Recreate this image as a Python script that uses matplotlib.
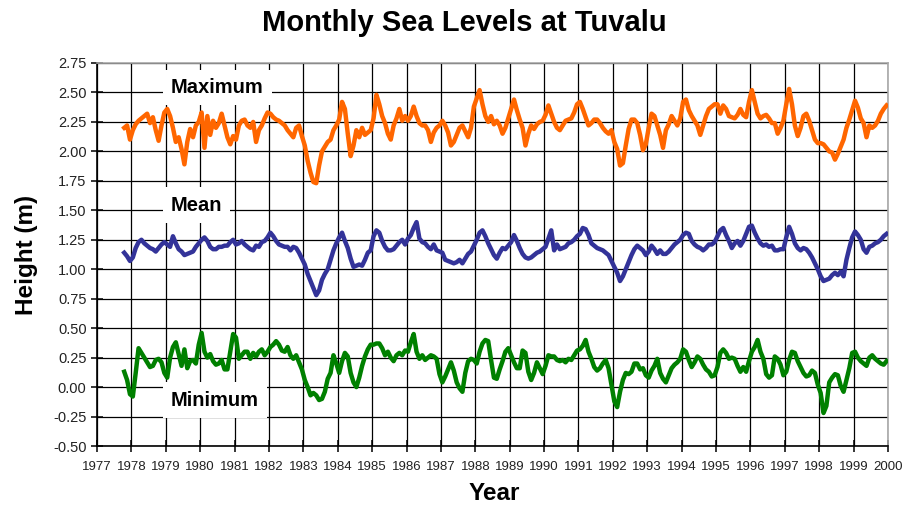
import numpy as np
import matplotlib
matplotlib.use('Agg')
import matplotlib.pyplot as plt

# monthly values, Oct 1977 .. Dec 1999 (metres)
start_year, start_month = 1977, 10

maximum = [
    2.20, 2.22, 2.10,
    2.18, 2.23, 2.26, 2.28, 2.30, 2.32, 2.24, 2.29, 2.18, 2.09, 2.22, 2.33,
    2.36, 2.30, 2.20, 2.08, 2.12, 2.02, 1.89, 2.08, 2.19, 2.12, 2.22, 2.25,
    2.33, 2.03, 2.30, 2.14, 2.26, 2.20, 2.24, 2.32, 2.22, 2.12, 2.06, 2.13,
    2.10, 2.22, 2.26, 2.27, 2.22, 2.20, 2.25, 2.08, 2.18, 2.22, 2.28, 2.33,
    2.32, 2.29, 2.27, 2.26, 2.24, 2.22, 2.18, 2.15, 2.12, 2.20, 2.22, 2.13,
    2.05, 1.92, 1.82, 1.74, 1.73, 1.88, 2.00, 2.04, 2.08, 2.10, 2.18, 2.22,
    2.27, 2.42, 2.36, 2.15, 1.96, 2.05, 2.18, 2.12, 2.20, 2.14, 2.16, 2.18,
    2.28, 2.48, 2.40, 2.30, 2.24, 2.15, 2.10, 2.22, 2.28, 2.36, 2.26, 2.30,
    2.26, 2.30, 2.38, 2.30, 2.24, 2.22, 2.22, 2.18, 2.08, 2.16, 2.20, 2.22,
    2.26, 2.22, 2.16, 2.05, 2.08, 2.14, 2.20, 2.22, 2.17, 2.12, 2.20, 2.38,
    2.45, 2.52, 2.40, 2.30, 2.25, 2.30, 2.23, 2.26, 2.22, 2.15, 2.20, 2.28,
    2.36, 2.44, 2.35, 2.27, 2.20, 2.05, 2.15, 2.22, 2.19, 2.23, 2.25, 2.26,
    2.31, 2.39, 2.32, 2.25, 2.20, 2.18, 2.22, 2.26, 2.27, 2.28, 2.33, 2.40,
    2.42, 2.36, 2.29, 2.22, 2.24, 2.27, 2.27, 2.24, 2.20, 2.17, 2.15, 2.18,
    2.08, 2.02, 1.88, 1.90, 2.05, 2.19, 2.27, 2.27, 2.24, 2.14, 2.01, 2.06,
    2.20, 2.32, 2.30, 2.22, 2.14, 2.03, 2.18, 2.23, 2.30, 2.26, 2.22, 2.28,
    2.42, 2.44, 2.35, 2.30, 2.26, 2.22, 2.14, 2.22, 2.30, 2.36, 2.38, 2.40,
    2.40, 2.32, 2.39, 2.36, 2.30, 2.29, 2.28, 2.31, 2.36, 2.31, 2.29, 2.42,
    2.52, 2.42, 2.32, 2.28, 2.30, 2.31, 2.28, 2.24, 2.24, 2.15, 2.20, 2.26,
    2.40, 2.53, 2.40, 2.22, 2.13, 2.20, 2.30, 2.32, 2.26, 2.18, 2.10, 2.07,
    2.07, 2.06, 2.03, 2.00, 1.99, 1.93, 1.98, 2.04, 2.10, 2.20, 2.27, 2.35,
    2.43, 2.37, 2.28, 2.24, 2.12, 2.22, 2.20, 2.22, 2.26, 2.32, 2.36, 2.39,
]

mean = [
    1.14, 1.11, 1.07,
    1.10, 1.18, 1.23, 1.25, 1.22, 1.20, 1.18, 1.17, 1.15, 1.18, 1.21, 1.23,
    1.21, 1.19, 1.28, 1.22, 1.17, 1.15, 1.12, 1.13, 1.14, 1.15, 1.19, 1.22,
    1.25, 1.27, 1.24, 1.19, 1.17, 1.17, 1.19, 1.19, 1.20, 1.20, 1.23, 1.25,
    1.21, 1.22, 1.24, 1.21, 1.19, 1.17, 1.16, 1.20, 1.19, 1.23, 1.24, 1.27,
    1.31, 1.28, 1.24, 1.21, 1.20, 1.19, 1.19, 1.16, 1.19, 1.18, 1.14, 1.09,
    1.04, 0.96, 0.90, 0.84, 0.78, 0.82, 0.91, 0.96, 1.00, 1.08, 1.16, 1.22,
    1.27, 1.31, 1.24, 1.18, 1.09, 1.02, 1.03, 1.04, 1.03, 1.08, 1.14, 1.16,
    1.28, 1.33, 1.31, 1.24, 1.19, 1.16, 1.16, 1.17, 1.20, 1.23, 1.25, 1.21,
    1.26, 1.29, 1.35, 1.40, 1.26, 1.23, 1.22, 1.19, 1.17, 1.21, 1.16, 1.15,
    1.14, 1.08, 1.07, 1.06, 1.05, 1.06, 1.08, 1.05, 1.09, 1.13, 1.15, 1.20,
    1.25, 1.31, 1.33, 1.28, 1.22, 1.17, 1.12, 1.09, 1.14, 1.18, 1.17, 1.20,
    1.23, 1.29, 1.24, 1.18, 1.13, 1.10, 1.09, 1.10, 1.12, 1.14, 1.15, 1.17,
    1.19, 1.26, 1.33, 1.16, 1.21, 1.17, 1.18, 1.19, 1.22, 1.23, 1.25, 1.28,
    1.30, 1.35, 1.34, 1.29, 1.22, 1.20, 1.18, 1.17, 1.16, 1.14, 1.12, 1.07,
    1.02, 0.97, 0.90, 0.94, 1.00, 1.06, 1.12, 1.17, 1.20, 1.18, 1.16, 1.12,
    1.15, 1.20, 1.17, 1.13, 1.16, 1.13, 1.13, 1.15, 1.18, 1.21, 1.23, 1.25,
    1.29, 1.31, 1.30, 1.24, 1.21, 1.19, 1.18, 1.16, 1.18, 1.21, 1.21, 1.23,
    1.28, 1.33, 1.35, 1.29, 1.24, 1.18, 1.22, 1.24, 1.20, 1.24, 1.30, 1.36,
    1.37, 1.31, 1.26, 1.22, 1.20, 1.21, 1.19, 1.20, 1.16, 1.16, 1.17, 1.17,
    1.27, 1.36, 1.30, 1.22, 1.18, 1.16, 1.18, 1.17, 1.14, 1.10, 1.05, 1.00,
    0.94, 0.90, 0.91, 0.92, 0.95, 0.97, 0.95, 0.98, 0.94, 1.08, 1.18, 1.27,
    1.32, 1.29, 1.25, 1.17, 1.14, 1.19, 1.20, 1.22, 1.23, 1.25, 1.28, 1.30,
]

minimum = [
    0.13, 0.06, -0.06,
    -0.08, 0.12, 0.33, 0.29, 0.25, 0.21, 0.17, 0.18, 0.23, 0.24, 0.21, 0.12,
    0.08, 0.25, 0.34, 0.38, 0.28, 0.18, 0.32, 0.16, 0.22, 0.23, 0.20, 0.36,
    0.46, 0.30, 0.25, 0.28, 0.22, 0.19, 0.20, 0.23, 0.15, 0.15, 0.30, 0.45,
    0.42, 0.24, 0.27, 0.30, 0.30, 0.24, 0.29, 0.26, 0.30, 0.32, 0.27, 0.30,
    0.34, 0.36, 0.39, 0.36, 0.31, 0.30, 0.34, 0.27, 0.24, 0.27, 0.21, 0.15,
    0.06, 0.00, -0.07, -0.05, -0.07, -0.11, -0.10, -0.04, 0.07, 0.12, 0.27, 0.20,
    0.12, 0.22, 0.29, 0.26, 0.12, 0.04, 0.00, 0.08, 0.18, 0.26, 0.32, 0.36,
    0.36, 0.37, 0.37, 0.33, 0.27, 0.30, 0.25, 0.22, 0.27, 0.29, 0.27, 0.31,
    0.30, 0.38, 0.45, 0.30, 0.24, 0.27, 0.23, 0.25, 0.27, 0.26, 0.24, 0.11,
    0.04, 0.09, 0.15, 0.21, 0.14, 0.04, -0.01, -0.04, 0.12, 0.22, 0.24, 0.23,
    0.20, 0.30, 0.37, 0.40, 0.39, 0.23, 0.08, 0.07, 0.15, 0.22, 0.30, 0.33,
    0.27, 0.21, 0.16, 0.16, 0.31, 0.29, 0.13, 0.06, 0.12, 0.21, 0.16, 0.11,
    0.18, 0.27, 0.26, 0.26, 0.23, 0.22, 0.23, 0.21, 0.24, 0.23, 0.27, 0.31,
    0.32, 0.35, 0.40, 0.30, 0.24, 0.17, 0.14, 0.16, 0.20, 0.23, 0.16, 0.02,
    -0.12, -0.17, -0.04, 0.06, 0.12, 0.11, 0.13, 0.20, 0.20, 0.15, 0.16, 0.10,
    0.08, 0.14, 0.18, 0.24, 0.12, 0.07, 0.04, 0.10, 0.16, 0.19, 0.21, 0.24,
    0.32, 0.30, 0.23, 0.17, 0.21, 0.26, 0.24, 0.19, 0.15, 0.13, 0.09, 0.10,
    0.17, 0.29, 0.32, 0.29, 0.24, 0.25, 0.24, 0.18, 0.13, 0.17, 0.13, 0.22,
    0.30, 0.34, 0.40, 0.30, 0.24, 0.11, 0.08, 0.10, 0.26, 0.24, 0.19, 0.10,
    0.13, 0.23, 0.30, 0.29, 0.22, 0.17, 0.12, 0.09, 0.10, 0.14, 0.12, 0.02,
    -0.05, -0.22, -0.16, 0.04, 0.08, 0.11, 0.10, 0.01, -0.04, 0.06, 0.16, 0.29,
    0.30, 0.25, 0.22, 0.20, 0.18, 0.25, 0.27, 0.24, 0.22, 0.20, 0.19, 0.22,
]

years = list(range(1977, 2001))
yticks = [-0.5, -0.25, 0, 0.25, 0.5, 0.75, 1.0, 1.25, 1.5, 1.75, 2.0, 2.25, 2.5, 2.75]

# mid-month positions in decimal years
n = len(maximum)
t = start_year + (start_month - 1 + np.arange(n) + 0.5) / 12

plt.rcParams['font.family'] = ['Liberation Sans', 'DejaVu Sans']

fig = plt.figure(figsize=(9.02, 5.05), dpi=100)
ax = fig.add_axes([97 / 902, 1 - 446 / 505, (888 - 97) / 902, (446 - 63) / 505])

ax.plot(t, maximum, color='#ff6600', lw=3.2, zorder=3)
ax.plot(t, mean, color='#333399', lw=3.2, zorder=3)
ax.plot(t, minimum, color='#008000', lw=3.2, zorder=3)

ax.set_xlim(1977, 2000)
ax.set_ylim(-0.5, 2.75)
ax.set_xticks(years)
ax.set_xticklabels([str(y) for y in years], family=['Liberation Sans Narrow', 'Liberation Sans'],
                   fontsize=9.5, color='#222222')
ax.set_yticks(yticks)
ax.set_yticklabels([f'{v:.2f}' for v in yticks], fontsize=10.5, color='#222222')
ax.tick_params(direction='inout', length=9, width=1.1, color='black')
ax.tick_params(axis='x', pad=6)
ax.tick_params(axis='y', pad=3)
ax.grid(True, color='black', lw=0.9, zorder=1)
ax.set_axisbelow(True)

for s in ['left', 'bottom']:
    ax.spines[s].set_linewidth(1.2)
    ax.spines[s].set_color('black')
for s in ['top', 'right']:
    ax.spines[s].set_linewidth(1.2)
    ax.spines[s].set_color('#a8a8a8')

box = dict(boxstyle='square,pad=0.4', facecolor='white', edgecolor='none')
ax.text(1979.15, 2.54, 'Maximum', fontsize=14.5, fontweight='bold', va='center', ha='left',
        bbox=box, zorder=5)
ax.text(1979.15, 1.545, 'Mean', fontsize=14.5, fontweight='bold', va='center', ha='left',
        bbox=box, zorder=5)
ax.text(1979.15, -0.11, 'Minimum', fontsize=14.5, fontweight='bold', va='center', ha='left',
        bbox=box, zorder=5)

fig.text(464 / 902, 1 - 23 / 505, 'Monthly Sea Levels at Tuvalu', ha='center', va='center',
         fontsize=21, fontweight='bold')
fig.text(494 / 902, 1 - 494 / 505, 'Year', ha='center', va='center',
         fontsize=17.5, fontweight='bold')
fig.text(26 / 902, 1 - 255 / 505, 'Height (m)', ha='center', va='center', rotation=90,
         fontsize=17.5, fontweight='bold')

fig.savefig('out.png', dpi=100, facecolor='white')
